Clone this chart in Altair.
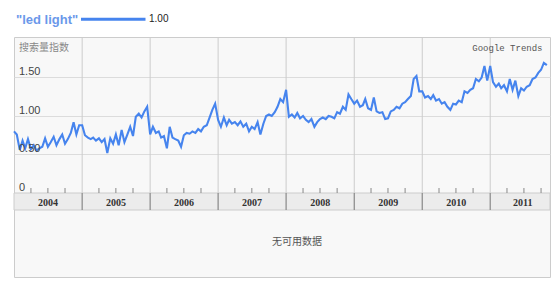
import altair as alt
import pandas as pd

# ---- data (semi-monthly readings of the search index) ----
vals_2004 = [0.80, 0.76, 0.56, 0.68, 0.58, 0.70, 0.57, 0.62, 0.55, 0.58, 0.60, 0.71,
             0.60, 0.66, 0.73, 0.62, 0.70, 0.76, 0.64, 0.70, 0.78, 0.92, 0.76, 0.88]
vals_2005 = [0.88, 0.75, 0.72, 0.70, 0.72, 0.68, 0.71, 0.66, 0.70, 0.52, 0.71, 0.64,
             0.76, 0.62, 0.82, 0.66, 0.76, 0.86, 0.74, 0.99, 1.03, 0.98, 1.06, 1.12]
vals_2006 = [0.76, 0.86, 0.78, 0.80, 0.72, 0.74, 0.58, 0.86, 0.72, 0.70, 0.68, 0.60,
             0.75, 0.78, 0.77, 0.80, 0.78, 0.83, 0.80, 0.86, 0.88, 0.98, 1.08, 1.16]
vals_2007 = [0.95, 0.86, 0.98, 0.88, 0.95, 0.90, 0.92, 0.88, 0.93, 0.86, 0.90, 0.80,
             0.86, 0.83, 0.92, 0.76, 0.90, 1.00, 1.02, 1.00, 1.05, 1.12, 1.22, 1.18]
vals_2008 = [1.34, 0.99, 1.02, 0.98, 1.04, 0.97, 1.00, 0.95, 0.92, 0.96, 0.86, 0.92,
             0.96, 0.98, 0.96, 1.00, 0.99, 0.97, 1.05, 1.03, 1.12, 1.08, 1.28, 1.22]
vals_2009 = [1.16, 1.20, 1.12, 1.14, 1.22, 1.10, 1.08, 1.24, 1.06, 1.04, 1.05, 0.96,
             0.97, 1.06, 1.08, 1.12, 1.10, 1.16, 1.18, 1.22, 1.26, 1.48, 1.52, 1.32]
vals_2010 = [1.32, 1.24, 1.26, 1.22, 1.27, 1.20, 1.22, 1.16, 1.18, 1.12, 1.08, 1.16,
             1.15, 1.20, 1.18, 1.32, 1.30, 1.34, 1.36, 1.48, 1.45, 1.50, 1.65, 1.46]
vals_2011 = [1.65, 1.44, 1.38, 1.42, 1.36, 1.40, 1.32, 1.48, 1.34, 1.46, 1.26, 1.36,
             1.33, 1.38, 1.40, 1.48, 1.50, 1.56, 1.60, 1.69, 1.66]

years = [2004, 2005, 2006, 2007, 2008, 2009, 2010, 2011]
series = [vals_2004, vals_2005, vals_2006, vals_2007, vals_2008, vals_2009, vals_2010, vals_2011]
y_ticks = [0, 0.5, 1.0, 1.5]
y_tick_labels = ["0", "0.50", "1.00", "1.50"]
year_labels = ["2004", "2005", "2006", "2007", "2008", "2009", "2010", "2011"]

term = '"led light"'
legend_value = "1.00"
axis_title = "搜索量指数"
brand = "Google Trends"
no_data = "无可用数据"

rows = []
for yr, vals in zip(years, series):
    for i, v in enumerate(vals):
        rows.append({"date": pd.Timestamp(yr, i // 2 + 1, 1 if i % 2 == 0 else 16), "v": v})
line_df = pd.DataFrame(rows)

# ---- geometry of the panel (pixels) ----
W, H = 536, 240
PXU = 77.0                      # pixels per index unit
Y_TOP = 156 / PXU
Y_BOT = -84 / PXU
BAND = -17 / PXU
X0 = pd.Timestamp(2004, 1, 1)
X1 = pd.Timestamp(2011, 11, 18)

xs = alt.Scale(domain=[X0.isoformat(), X1.isoformat()])
ys = alt.Scale(domain=[Y_BOT, Y_TOP], nice=False, zero=False)

one = pd.DataFrame({"a": [0]})

# background pieces
band_df = pd.DataFrame({"x": [X0], "x2": [X1], "y": [0.0], "y2": [BAND]})
band = alt.Chart(band_df).mark_rect(fill="#ececec", stroke="#cccccc", strokeWidth=1).encode(
    x=alt.X("x:T", scale=xs, axis=None), x2="x2:T",
    y=alt.Y("y:Q", scale=ys, axis=alt.Axis(values=[0.5, 1.0, 1.5], grid=True, gridColor="#dcdcdc",
                                               gridWidth=1, labels=False, ticks=False, domain=False, title=None)),
    y2="y2:Q")

yl_df = pd.DataFrame({"d": [pd.Timestamp(y, 1, 1) for y in years[1:]]})
vlines = alt.Chart(yl_df).mark_rule(color="#cccccc", strokeWidth=1).encode(
    x=alt.X("d:T", scale=xs), y=alt.datum(Y_TOP, scale=ys) if False else alt.value(0), y2=alt.value(156))
vband = alt.Chart(yl_df).mark_rule(color="#888888", strokeWidth=1.2).encode(
    x=alt.X("d:T", scale=xs), y=alt.value(156), y2=alt.value(173))

q_df = pd.DataFrame({"d": [pd.Timestamp(y, m, 1) for y in years for m in (4, 7, 10)]})
qticks = alt.Chart(q_df).mark_rule(color="#888888", strokeWidth=1).encode(
    x=alt.X("d:T", scale=xs), y=alt.value(151), y2=alt.value(156))

yr_df = pd.DataFrame({"d": [pd.Timestamp(y, 7, 2) for y in years[:-1]] + [pd.Timestamp(2011, 6, 25)],
                      "t": year_labels})
yrtext = alt.Chart(yr_df).mark_text(font="Liberation Serif", fontSize=10, fontWeight="bold",
                                    color="#333333", baseline="middle").encode(
    x=alt.X("d:T", scale=xs), y=alt.value(166), text="t:N")

ylab_df = pd.DataFrame({"v": y_ticks, "t": y_tick_labels})
ylabels = alt.Chart(ylab_df).mark_text(font="Liberation Sans", fontSize=11, color="#444444",
                                       align="left", baseline="alphabetic", dy=-2.5).encode(
    x=alt.value(5), y=alt.Y("v:Q", scale=ys), text="t:N")

line = alt.Chart(line_df).mark_line(color="#4684ee", strokeWidth=2.1).encode(
    x=alt.X("date:T", scale=xs), y=alt.Y("v:Q", scale=ys))

def txt(s, **kw):
    enc = {k: alt.value(kw.pop(k)) for k in ("x", "y") if k in kw}
    return alt.Chart(one).mark_text(**kw).encode(text=alt.value(s), **enc)

t_axis = txt(axis_title, x=5, y=10.5, font="Noto Sans CJK SC", fontSize=10, color="#888888",
             align="left", baseline="middle")
t_brand = txt(brand, x=528.5, y=10.5, font="Liberation Mono", fontSize=9, color="#555555",
              align="right", baseline="middle")
t_nodata = txt(no_data, x=283, y=204.5, font="Noto Sans CJK SC", fontSize=10, color="#555555",
               align="center", baseline="middle")
t_term = txt(term, x=2, y=-17.5, font="Liberation Sans", fontSize=13, fontWeight="bold",
             color="#6b98ea", align="left", baseline="middle")
t_val = txt(legend_value, x=135, y=-17.8, font="Liberation Sans", fontSize=10, color="#222222",
            align="left", baseline="middle")
leg_line = alt.Chart(one).mark_rule(color="#4684ee", strokeWidth=3).encode(
    x=alt.value(67), x2=alt.value(131.5), y=alt.value(-17.8))

chart = alt.layer(band, vlines, vband, qticks, yrtext, line, ylabels,
                  t_axis, t_brand, t_nodata, t_term, t_val, leg_line).properties(
    width=W, height=H,
    autosize=alt.AutoSizeParams(type="none"),
    padding={"left": 14, "top": 37, "right": 4, "bottom": 7},
    background="#ffffff",
).configure_view(fill="#f8f8f8", stroke="#cccccc", strokeWidth=1)

chart.save("out.html", embed_options={"renderer": "svg", "actions": False})
